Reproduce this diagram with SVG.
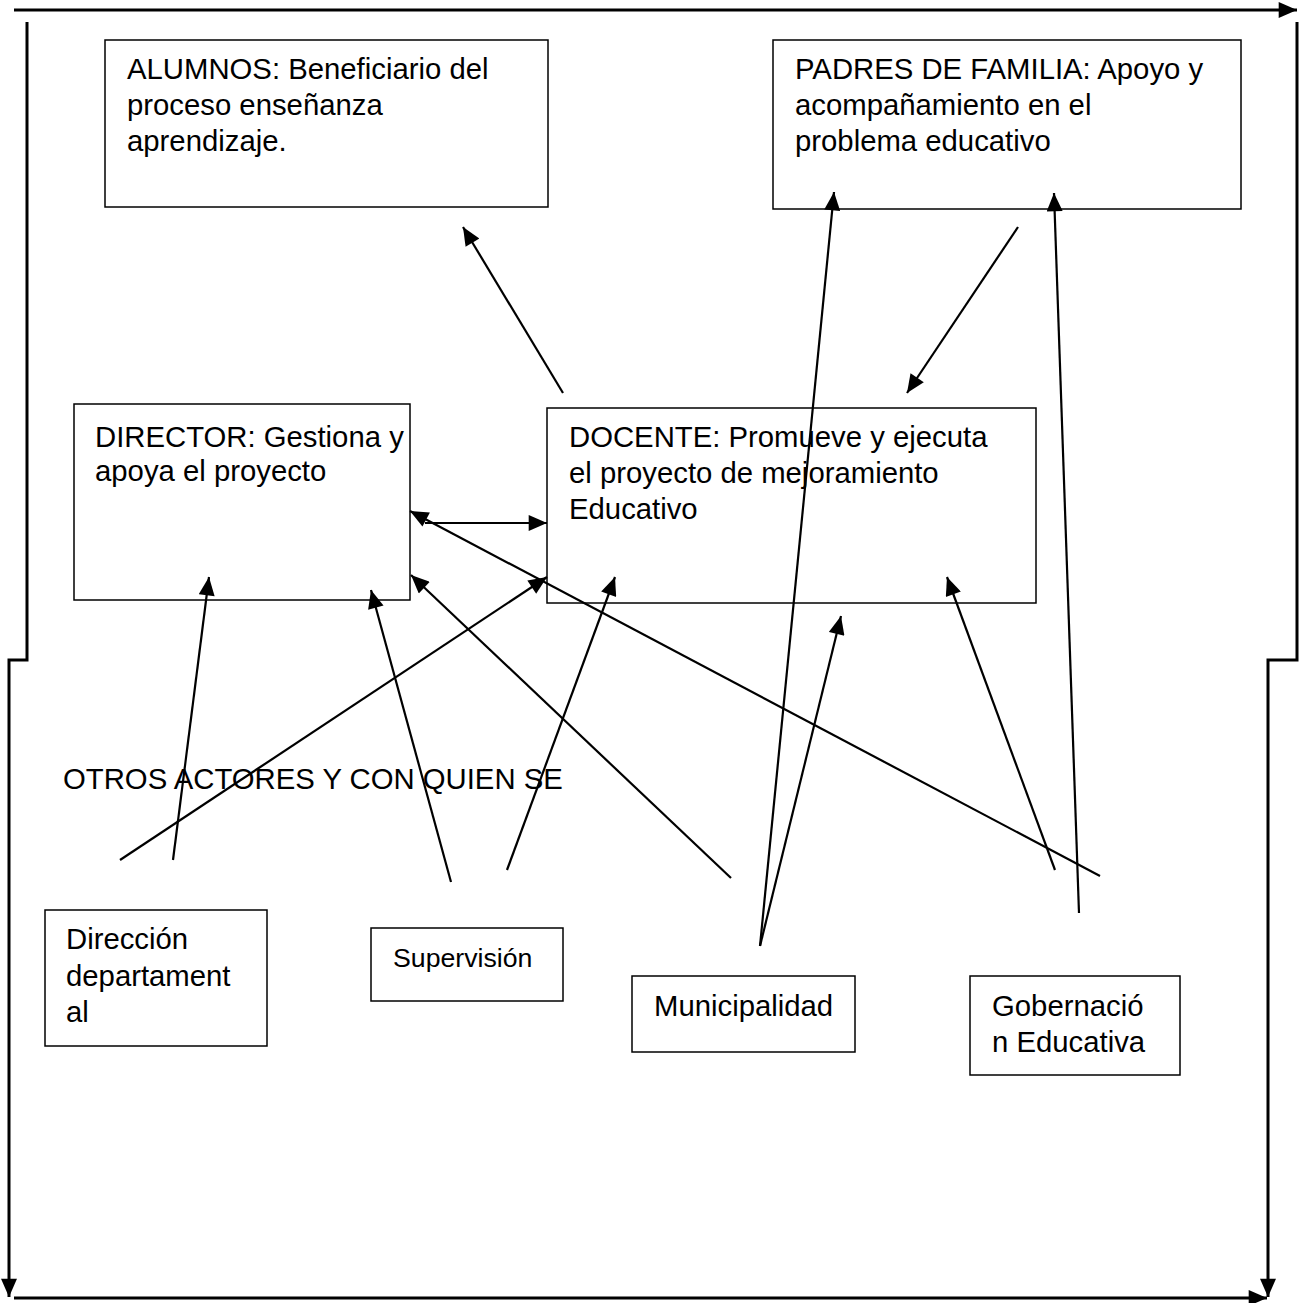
<svg xmlns="http://www.w3.org/2000/svg" width="1306" height="1303" viewBox="0 0 1306 1303">
<style>
.box{fill:#fff;stroke:#000;stroke-width:1.5}
.t{font-family:"Liberation Sans",Arial,sans-serif;font-size:29.3px;fill:#000}
.s{font-size:26.7px}
.c{stroke:#000;stroke-width:2.2;fill:none}
.f{stroke:#000;stroke-width:3;fill:none}
</style>
<defs>
<marker id="ah" markerUnits="userSpaceOnUse" markerWidth="20" markerHeight="16" refX="16" refY="7" orient="auto" viewBox="0 0 16 14">
<path d="M0,0 L16,7 L0,14 z" fill="#000"/>
</marker>
</defs>
<rect width="1306" height="1303" fill="#fff"/>
<g id="frame">
<line class="f" x1="14" y1="10" x2="1297" y2="10" marker-end="url(#ah)"/>
<polyline class="f" points="27,22 27,660 9,660 9,1297" marker-end="url(#ah)"/>
<line class="f" x1="14" y1="1298" x2="1267" y2="1298" marker-end="url(#ah)"/>
<polyline class="f" points="1297,22 1297,660 1268,660 1268,1297" marker-end="url(#ah)"/>
</g>
<g id="connectors">
<line class="c" x1="563" y1="393" x2="463" y2="227" marker-end="url(#ah)"/>
<line class="c" x1="1018" y1="227" x2="907" y2="393" marker-end="url(#ah)"/>
<line class="c" x1="425" y1="523" x2="547" y2="523" marker-end="url(#ah)"/>
<line class="c" x1="1100" y1="876" x2="410" y2="511" marker-end="url(#ah)"/>
<line class="c" x1="120" y1="860" x2="547" y2="577" marker-end="url(#ah)"/>
<line class="c" x1="173" y1="860" x2="209" y2="577" marker-end="url(#ah)"/>
<line class="c" x1="451" y1="882" x2="371" y2="590" marker-end="url(#ah)"/>
<line class="c" x1="507" y1="870" x2="615" y2="577" marker-end="url(#ah)"/>
<line class="c" x1="731" y1="878" x2="411" y2="575" marker-end="url(#ah)"/>
<line class="c" x1="760" y1="946" x2="834" y2="192" marker-end="url(#ah)"/>
<line class="c" x1="760" y1="946" x2="841" y2="616" marker-end="url(#ah)"/>
<line class="c" x1="1055" y1="870" x2="947" y2="577" marker-end="url(#ah)"/>
<line class="c" x1="1079" y1="913" x2="1054" y2="193" marker-end="url(#ah)"/>
</g>
<g id="alumnos">
<rect class="box" x="105" y="40" width="443" height="167" fill-opacity="0"/>
<text class="t" x="127" y="79">ALUMNOS: Beneficiario del</text>
<text class="t" x="127" y="115">proceso enseñanza</text>
<text class="t" x="127" y="151">aprendizaje.</text>
</g>
<g id="padres">
<rect class="box" x="773" y="40" width="468" height="169" fill-opacity="0"/>
<text class="t" x="795" y="79">PADRES DE FAMILIA: Apoyo y</text>
<text class="t" x="795" y="115">acompañamiento en el</text>
<text class="t" x="795" y="151">problema educativo</text>
</g>
<g id="director">
<rect class="box" x="74" y="404" width="336" height="196" fill-opacity="0"/>
<text class="t" x="95" y="447">DIRECTOR: Gestiona y</text>
<text class="t" x="95" y="481">apoya el proyecto</text>
</g>
<g id="docente">
<rect class="box" x="547" y="408" width="489" height="195" fill-opacity="0"/>
<text class="t" x="569" y="447">DOCENTE: Promueve y ejecuta</text>
<text class="t" x="569" y="483">el proyecto de mejoramiento</text>
<text class="t" x="569" y="519">Educativo</text>
</g>
<g id="otros">
<text class="t" x="63" y="789">OTROS ACTORES Y CON QUIEN SE</text>
</g>
<g id="direccion">
<rect class="box" x="45" y="910" width="222" height="136"/>
<text class="t" x="66" y="949">Dirección</text>
<text class="t" x="66" y="986">departament</text>
<text class="t" x="66" y="1022">al</text>
</g>
<g id="supervision">
<rect class="box" x="371" y="928" width="192" height="73"/>
<text class="t s" x="393" y="967">Supervisión</text>
</g>
<g id="municipalidad">
<rect class="box" x="632" y="976" width="223" height="76"/>
<text class="t" x="654" y="1016">Municipalidad</text>
</g>
<g id="gobernacion">
<rect class="box" x="970" y="976" width="210" height="99"/>
<text class="t" x="992" y="1016">Gobernació</text>
<text class="t" x="992" y="1052">n Educativa</text>
</g>
</svg>
